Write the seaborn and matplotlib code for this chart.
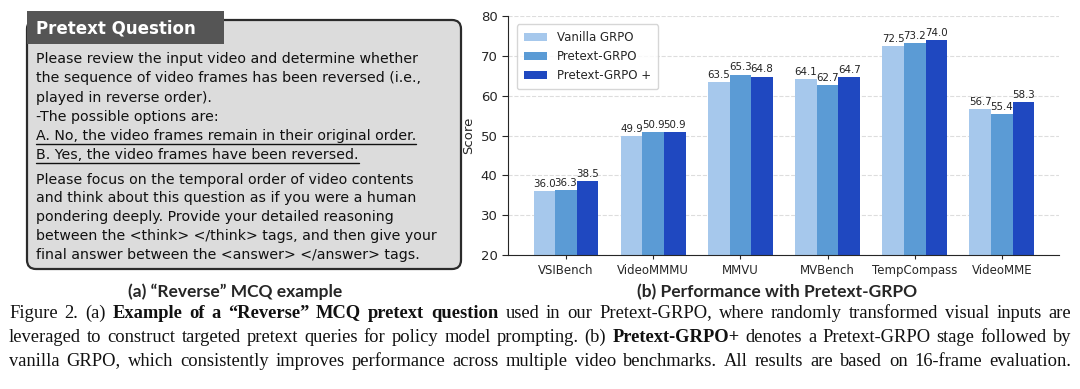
import pandas as pd
import matplotlib.pyplot as plt
import seaborn as sns
from matplotlib.patches import FancyBboxPatch, Rectangle

# Chart data
benchmarks = ['VSIBench', 'VideoMMMU', 'MMVU', 'MVBench', 'TempCompass', 'VideoMME']
methods = ['Vanilla GRPO', 'Pretext-GRPO', 'Pretext-GRPO +']
vanilla = [36.0, 49.9, 63.5, 64.1, 72.5, 56.7]
pretext = [36.3, 50.9, 65.3, 62.7, 73.2, 55.4]
pretext_plus = [38.5, 50.9, 64.8, 64.7, 74.0, 58.3]
colors = ['#a6c8ec', '#5b9bd5', '#1f48c0']

question_lines = [
    "Please review the input video and determine whether",
    "the sequence of video frames has been reversed (i.e.,",
    "played in reverse order).",
    "-The possible options are:",
    "A. No, the video frames remain in their original order.",
    "B. Yes, the video frames have been reversed.",
    "Please focus on the temporal order of video contents",
    "and think about this question as if you were a human",
    "pondering deeply. Provide your detailed reasoning",
    "between the <think> </think> tags, and then give your",
    "final answer between the <answer> </answer> tags.",
]
underlined = [4, 5]

caption_lines = [
    [("Figure 2. (a)", "normal"), ("Example of a \u201cReverse\u201d MCQ pretext question", "bold"),
     ("used in our Pretext-GRPO, where randomly transformed visual inputs are", "normal")],
    [("leveraged to construct targeted pretext queries for policy model prompting. (b)", "normal"),
     ("Pretext-GRPO+", "bold"), ("denotes a Pretext-GRPO stage followed by", "normal")],
    [("vanilla GRPO, which consistently improves performance across multiple video benchmarks. "
      "All results are based on 16-frame evaluation.", "normal")],
]

df = pd.DataFrame({
    'benchmark': benchmarks * 3,
    'method': [m for m in methods for _ in benchmarks],
    'score': vanilla + pretext + pretext_plus,
})

sns.set_style('ticks')
plt.rcParams['font.family'] = ['DejaVu Sans']
narrow = ['Liberation Sans Narrow', 'DejaVu Sans']

fig = plt.figure(figsize=(10.8, 3.89), dpi=100)

# full-figure canvas in pixel units for the text panel and caption
canvas = fig.add_axes([0, 0, 1, 1])
canvas.set_xlim(0, 1080)
canvas.set_ylim(389, 0)
canvas.axis('off')

box = FancyBboxPatch((27, 20), 434, 249, boxstyle="round,pad=0,rounding_size=9",
                     fc='#dcdcdc', ec='#2b2b2b', lw=1.6)
canvas.add_patch(box)
canvas.add_patch(Rectangle((27, 11), 197, 33, fc='#555555', ec='none'))
canvas.text(36, 28, "Pretext Question", color='white', fontsize=12, fontweight='bold',
            va='center', ha='left')

fig.canvas.draw()
renderer = fig.canvas.get_renderer()

line_y = [59, 78, 98, 117, 136, 155, 180, 198, 217, 236, 255]
for i, (txt, y) in enumerate(zip(question_lines, line_y)):
    t = canvas.text(36, y, txt, fontsize=10.2, color='#111111', va='center', ha='left')
    if i in underlined:
        bb = t.get_window_extent(renderer)
        canvas.plot([36, 36 + bb.width], [y + 8, y + 8], color='#111111', lw=1.0)

canvas.text(235, 292, "(a) \u201cReverse\u201d MCQ example", fontsize=12.5, fontweight='bold',
            family='Lato', ha='center', va='center')
canvas.text(777, 292, "(b) Performance with Pretext-GRPO", fontsize=12.5, fontweight='bold',
            family='Lato', ha='center', va='center')

# justified caption
cap_x0, cap_x1 = 9, 1071
cap_y = [313, 337, 361]
for runs, y in zip(caption_lines, cap_y):
    words = []
    for text, weight in runs:
        for w in text.split(' '):
            t = canvas.text(0, y, w, fontsize=13.3, fontweight=weight, family='Liberation Serif',
                            va='center', ha='left', color='#111111')
            words.append((t, t.get_window_extent(renderer).width))
    total = sum(w for _, w in words)
    gap = (cap_x1 - cap_x0 - total) / (len(words) - 1)
    x = cap_x0
    for t, w in words:
        t.set_x(x)
        x += w + gap

# bar chart
ax = fig.add_axes([508 / 1080, 1 - 255 / 389, 551 / 1080, 239 / 389])
sns.barplot(data=df, x='benchmark', y='score', hue='method', palette=colors,
            width=0.745, saturation=1, linewidth=0, ax=ax)
for c in ax.containers:
    ax.bar_label(c, fmt='%.1f', fontsize=7.4, padding=1.5, color='#222222', family=narrow)
ax.set_ylim(20, 80)
ax.set_xlim(-0.665, 5.655)
ax.set_yticks(range(20, 81, 10))
ax.yaxis.grid(True, linestyle='--', color='#dddddd', lw=0.8)
ax.set_axisbelow(True)
ax.set_xlabel('')
ax.set_ylabel('Score', fontsize=9.5)
ax.tick_params(axis='x', labelsize=8.5, length=3)
ax.tick_params(axis='y', labelsize=9.5, length=4)
sns.despine(ax=ax)
ax.legend(loc='upper left', fontsize=8.5, frameon=True, edgecolor='#cccccc',
          borderpad=0.6, handlelength=2.0, bbox_to_anchor=(0.005, 0.99))

fig.savefig('out.png', dpi=100)
